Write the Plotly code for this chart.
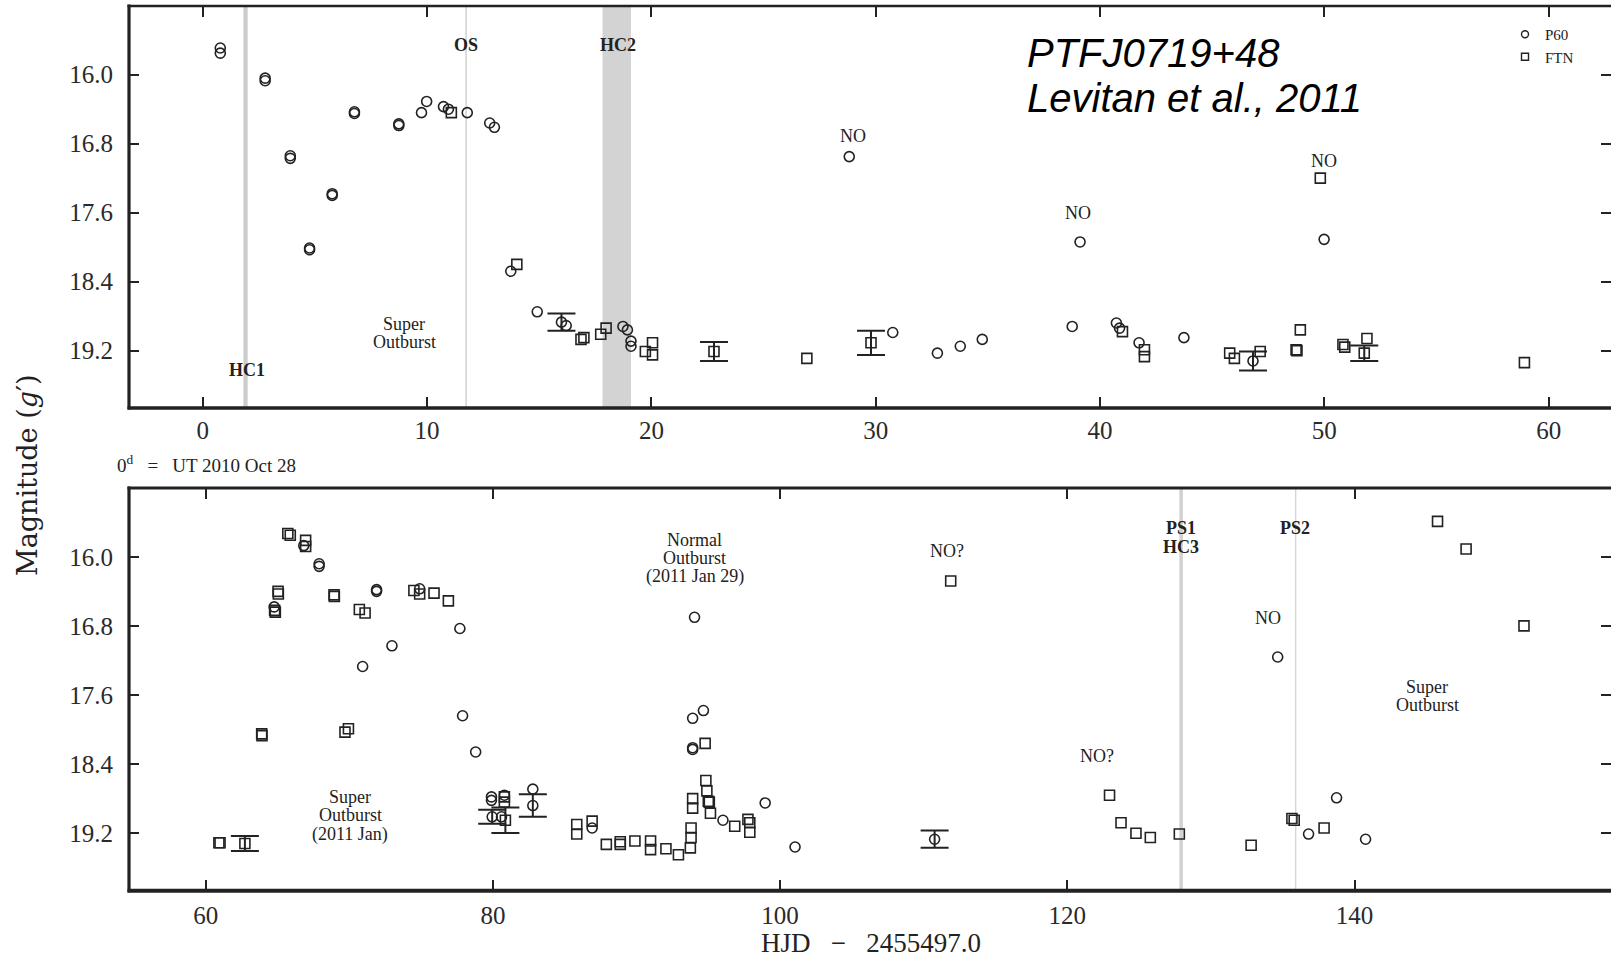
import plotly.graph_objects as go

# ---------------- photometry (HJD - 2455497.0, g' magnitude) ----------------
# P60 (open circles)
P60_DAY = [0.78, 0.78, 2.78, 2.78, 3.9, 3.9, 4.76, 4.76, 5.77, 5.77, 6.76, 6.76,
           8.74, 8.74, 9.75, 9.98, 10.73, 10.95, 11.79, 12.79, 13.0, 13.73, 14.91,
           16.2, 18.73, 18.93, 19.09, 19.09, 28.82, 30.76, 32.75, 33.77, 34.75,
           38.76, 39.11, 40.73, 40.87, 41.74, 43.74, 49.99,
           64.77, 66.83, 67.9, 67.9, 71.9, 71.9, 74.9, 77.7, 72.97, 70.93, 77.89,
           78.8, 79.9, 79.9, 80.6, 80.8, 82.78, 86.91, 94.04, 93.91, 93.91, 93.91,
           94.66, 96.02, 98.96, 101.04, 134.65, 136.8, 138.75, 140.77]
P60_MAG = [15.69, 15.75, 16.04, 16.07, 16.94, 16.97, 18.01, 18.03, 17.38, 17.40, 16.43, 16.45,
           16.57, 16.59, 16.44, 16.31, 16.37, 16.40, 16.44, 16.56, 16.61, 18.28, 18.75,
           18.91, 18.92, 18.96, 19.09, 19.15, 16.95, 18.99, 19.23, 19.15, 19.07,
           18.92, 17.94, 18.88, 18.94, 19.11, 19.05, 17.91,
           16.58, 15.87, 16.08, 16.11, 16.38, 16.40, 16.37, 16.83, 17.03, 17.27, 17.84,
           18.26, 18.78, 18.82, 19.01, 18.76, 18.69, 19.14, 16.70, 17.87, 18.21, 18.23,
           17.78, 19.05, 18.85, 19.36, 17.16, 19.21, 18.79, 19.27]
# P60 points with error bars
P60_E_DAY = [15.99, 46.82, 79.95, 82.78, 110.76]
P60_E_MAG = [18.87, 19.32, 19.01, 18.88, 19.27]
P60_E_ERR = [0.10, 0.11, 0.08, 0.13, 0.10]

# FTN (open squares)
FTN_DAY = [11.08, 14.0, 16.86, 16.99, 17.74, 17.98, 19.73, 20.05, 20.05, 26.93,
           41.0, 41.98, 41.98, 45.78, 45.99, 47.14, 48.74, 48.78, 48.93, 49.82,
           50.83, 50.91, 51.9, 58.92,
           60.92, 61.0, 63.9, 63.92, 65.04, 65.06, 64.8, 64.85, 65.72, 65.89,
           66.96, 66.96, 68.94, 68.96, 69.7, 69.94, 70.7, 71.1, 74.5, 74.9, 75.9,
           76.9, 80.8, 80.8, 85.84, 85.84, 86.91, 87.9, 88.87, 88.87, 89.89, 90.98,
           90.98, 92.05, 92.92, 93.8, 93.8, 93.75, 93.91, 93.91, 94.78, 94.83, 94.9,
           95.0, 95.07, 95.15, 96.84, 97.76, 97.89, 97.89, 111.88, 122.94, 123.74,
           124.78, 125.78, 127.8, 132.8, 135.64, 135.8, 137.88, 145.78, 147.77, 151.8]
FTN_MAG = [16.44, 18.2, 19.07, 19.05, 19.01, 18.94, 19.21, 19.11, 19.25, 19.29,
           18.98, 19.19, 19.27, 19.23, 19.29, 19.21, 19.19, 19.20, 18.96, 17.20,
           19.13, 19.16, 19.06, 19.34,
           19.31, 19.31, 18.05, 18.07, 16.40, 16.43, 16.62, 16.64, 15.73, 15.75,
           15.81, 15.88, 16.44, 16.46, 18.03, 17.99, 16.61, 16.65, 16.39, 16.43, 16.42,
           16.51, 18.78, 18.84, 19.10, 19.21, 19.06, 19.33, 19.33, 19.30, 19.29, 19.29,
           19.39, 19.38, 19.45, 19.14, 19.25, 19.37, 18.80, 18.91, 18.16, 18.59, 18.71,
           18.83, 18.84, 18.97, 19.12, 19.04, 19.08, 19.19, 16.28, 18.76, 19.08,
           19.20, 19.25, 19.21, 19.34, 19.03, 19.05, 19.14, 15.59, 15.91, 16.80]
# FTN points with error bars
FTN_E_DAY = [22.79, 29.79, 51.78, 62.73, 80.87]
FTN_E_MAG = [19.21, 19.11, 19.23, 19.32, 19.05]
FTN_E_ERR = [0.11, 0.14, 0.09, 0.087, 0.147]

assert len(P60_DAY) == len(P60_MAG) and len(FTN_DAY) == len(FTN_MAG)

# ---------------- axes ----------------
SPLIT_DAY = 60.0
TOP_XRANGE = [-3.29, 62.78]
BOT_XRANGE = [54.66, 157.86]
MAG_RANGE = [19.866, 15.203]           # magnitudes increase downward
TOP_XTICKS = [0, 10, 20, 30, 40, 50, 60]
BOT_XTICKS = [60, 80, 100, 120, 140]
MAG_TICKS = [16.0, 16.8, 17.6, 18.4, 19.2]
MAG_TICKTEXT = ["16.0", "16.8", "17.6", "18.4", "19.2"]

# shaded epochs: (panel, x0, x1, colour)
BANDS = [("top", 1.81, 2.00, "#cdcdcd"),      # HC1
         ("top", 11.70, 11.78, "#d8d8d8"),    # OS
         ("top", 17.82, 19.09, "#d3d3d3"),    # HC2
         ("bot", 127.80, 128.05, "#d2d2d2"),  # PS1 / HC3
         ("bot", 135.85, 135.95, "#d6d6d6")]  # PS2

# text labels: (panel, x, y, text, bold)
LABELS = [("top", 11.75, 15.66, "OS", True),
          ("top", 18.50, 15.66, "HC2", True),
          ("top", 1.95, 19.43, "HC1", True),
          ("top", 8.99, 18.89, "Super", False),
          ("top", 8.99, 19.10, "Outburst", False),
          ("top", 29.0, 16.71, "NO", False),
          ("top", 39.0, 17.60, "NO", False),
          ("top", 50.0, 17.00, "NO", False),
          ("bot", 70.06, 18.78, "Super", False),
          ("bot", 70.06, 18.99, "Outburst", False),
          ("bot", 70.06, 19.21, "(2011 Jan)", False),
          ("bot", 94.04, 15.80, "Normal", False),
          ("bot", 94.04, 16.01, "Outburst", False),
          ("bot", 94.04, 16.23, "(2011 Jan 29)", False),
          ("bot", 111.6, 15.93, "NO?", False),
          ("bot", 127.9, 15.67, "PS1", True),
          ("bot", 127.9, 15.89, "HC3", True),
          ("bot", 135.87, 15.67, "PS2", True),
          ("bot", 134.0, 16.71, "NO", False),
          ("bot", 122.04, 18.31, "NO?", False),
          ("bot", 145.08, 17.51, "Super", False),
          ("bot", 145.08, 17.72, "Outburst", False)]

W, H = 1611, 959
LEFT = 129 / W
TOP_DOM = [1 - 408 / H, 1 - 6 / H]
BOT_DOM = [1 - 890.7 / H, 1 - 488 / H]
INK = "#222222"
SERIF = "Liberation Serif"

fig = go.Figure()

PANELS = {"top": ("x", "y", lambda d: d < SPLIT_DAY),
          "bot": ("x2", "y2", lambda d: d >= SPLIT_DAY)}

CIRCLE = dict(symbol="circle-open", size=10, color=INK, line=dict(width=1.6))
SQUARE = dict(symbol="square-open", size=10, color=INK, line=dict(width=1.6))


def add_points(days, mags, marker, errs=None):
    for name, (xa, ya, keep) in PANELS.items():
        idx = [i for i, d in enumerate(days) if keep(d)]
        if not idx:
            continue
        tr = dict(x=[days[i] for i in idx], y=[mags[i] for i in idx],
                  mode="markers", marker=marker, xaxis=xa, yaxis=ya,
                  showlegend=False, hoverinfo="x+y")
        if errs is not None:
            tr["error_y"] = dict(type="data", array=[errs[i] for i in idx],
                                 color=INK, thickness=2, width=14)
        fig.add_trace(go.Scatter(**tr))


add_points(P60_E_DAY, P60_E_MAG, CIRCLE, P60_E_ERR)
add_points(FTN_E_DAY, FTN_E_MAG, SQUARE, FTN_E_ERR)
add_points(P60_DAY, P60_MAG, CIRCLE)
add_points(FTN_DAY, FTN_MAG, SQUARE)

# legend entries (smaller glyphs)
fig.add_trace(go.Scatter(x=[None], y=[None], mode="markers", name="P60",
                         marker=dict(symbol="circle-open", size=7, color=INK, line=dict(width=1.4))))
fig.add_trace(go.Scatter(x=[None], y=[None], mode="markers", name="FTN",
                         marker=dict(symbol="square-open", size=7, color=INK, line=dict(width=1.4))))

axis_common = dict(showgrid=False, zeroline=False, ticks="inside", mirror="ticks",
                   showline=True, linecolor="rgba(0,0,0,0)", linewidth=1,
                   tickcolor=INK, tickwidth=1.5,
                   tickfont=dict(family=SERIF, size=25, color="#2a2a2a"))

fig.update_layout(
    width=W, height=H, margin=dict(l=0, r=0, t=0, b=0),
    paper_bgcolor="white", plot_bgcolor="white",
    xaxis=dict(axis_common, domain=[LEFT, 1], range=TOP_XRANGE, anchor="y",
               tickvals=TOP_XTICKS, ticklen=11, ticklabelstandoff=0),
    yaxis=dict(axis_common, domain=TOP_DOM, range=MAG_RANGE, anchor="x",
               tickvals=MAG_TICKS, ticktext=MAG_TICKTEXT, ticklen=10, ticklabelstandoff=10),
    xaxis2=dict(axis_common, domain=[LEFT, 1], range=BOT_XRANGE, anchor="y2",
                tickvals=BOT_XTICKS, ticklen=11, ticklabelstandoff=2),
    yaxis2=dict(axis_common, domain=BOT_DOM, range=MAG_RANGE, anchor="x2",
                tickvals=MAG_TICKS, ticktext=MAG_TICKTEXT, ticklen=10, ticklabelstandoff=10),
    legend=dict(x=1505 / W, y=1 - 18 / H, xanchor="left", yanchor="top",
                font=dict(family=SERIF, size=15, color=INK),
                bgcolor="rgba(0,0,0,0)", itemwidth=30, tracegroupgap=0),
    showlegend=True,
)

shapes = []
for panel, x0, x1, col in BANDS:
    xa, ya, _ = PANELS[panel]
    shapes.append(dict(type="rect", xref=xa, yref=ya + " domain", x0=x0, x1=x1,
                       y0=0, y1=1, fillcolor=col, line=dict(width=0), layer="below"))

# panel frames (top, left, bottom edges)
for dom, wtop, wbot in ((TOP_DOM, 2.7, 3.3), (BOT_DOM, 3.0, 4.0)):
    shapes.append(dict(type="line", xref="paper", yref="paper", x0=LEFT - 1.5 / W, x1=1,
                       y0=dom[1], y1=dom[1], line=dict(color=INK, width=wtop)))
    shapes.append(dict(type="line", xref="paper", yref="paper", x0=LEFT - 1.5 / W, x1=1,
                       y0=dom[0], y1=dom[0], line=dict(color=INK, width=wbot)))
    shapes.append(dict(type="line", xref="paper", yref="paper", x0=LEFT, x1=LEFT,
                       y0=dom[0] - 1.5 / H, y1=dom[1] + 1.5 / H, line=dict(color=INK, width=3.2)))
fig.update_layout(shapes=shapes)

ann = []
for panel, x, y, text, bold in LABELS:
    xa, ya, _ = PANELS[panel]
    ann.append(dict(x=x, y=y, xref=xa, yref=ya, text=f"<b>{text}</b>" if bold else text,
                    showarrow=False, xanchor="center", yanchor="middle",
                    font=dict(family=SERIF, size=18, color=INK)))

# titles and notes
ann += [
    dict(x=28 / W, y=1 - 475 / H, xref="paper", yref="paper", text="Magnitude (<i>g</i>′)",
         textangle=-90, showarrow=False, xanchor="center", yanchor="middle",
         font=dict(family="DejaVu Serif", size=27, color=INK)),
    dict(x=871 / W, y=1 - 943 / H, xref="paper", yref="paper", xanchor="center", yanchor="middle",
         text="HJD \u2002−\u2002 2455497.0",
         showarrow=False, font=dict(family=SERIF, size=27, color=INK)),
    dict(x=115 / W, y=1 - 464 / H, xref="paper", yref="paper", xanchor="left", yanchor="middle",
         text="0<sup>d</sup> \u2002=\u2002 UT 2010 Oct 28",
         showarrow=False, font=dict(family=SERIF, size=19, color=INK)),
    dict(x=1025 / W, y=1 - 53 / H, xref="paper", yref="paper", xanchor="left", yanchor="middle",
         text="<i>PTFJ0719+48</i>", showarrow=False,
         font=dict(family="Liberation Sans", size=40, color="black")),
    dict(x=1025 / W, y=1 - 98 / H, xref="paper", yref="paper", xanchor="left", yanchor="middle",
         text="<i>Levitan et al., 2011</i>", showarrow=False,
         font=dict(family="Liberation Sans", size=40, color="black")),
]
fig.update_layout(annotations=ann)

fig.write_html("out.html")
